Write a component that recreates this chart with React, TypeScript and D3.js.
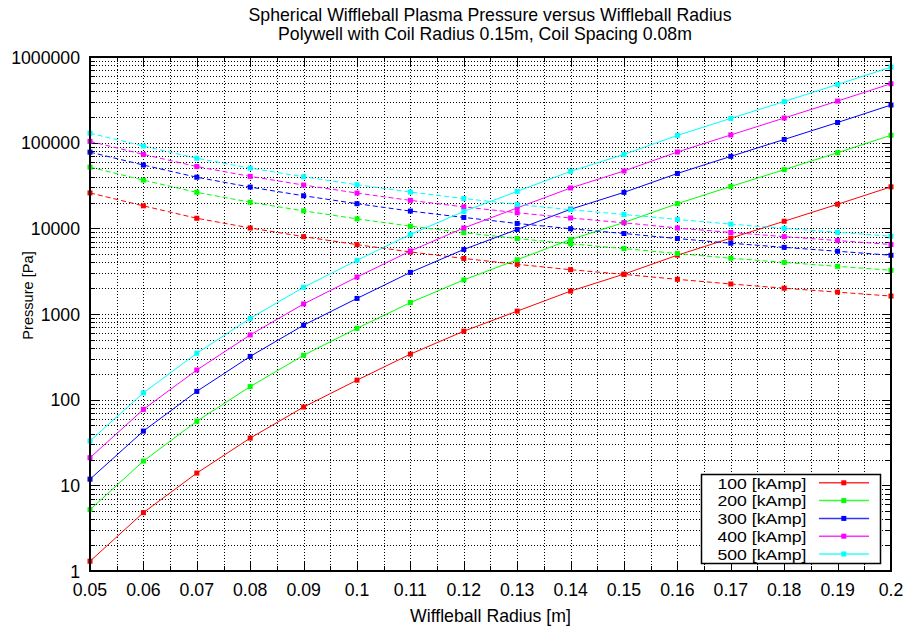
import { useRef, useEffect } from 'react';
import * as d3 from 'd3';

// radius samples [m]
const radius = [0.05, 0.06, 0.07, 0.08, 0.09, 0.1, 0.11, 0.12, 0.13, 0.14, 0.15, 0.16, 0.17, 0.18, 0.19, 0.2];

const currents = ['100 [kAmp]', '200 [kAmp]', '300 [kAmp]', '400 [kAmp]', '500 [kAmp]'];
const colors = ['#ff0000', '#00ff00', '#0000ff', '#ff00ff', '#00ffff'];

// solid curves (rising with radius)
const plasma100 = [1.3, 4.8, 13.9, 35.6, 82, 169, 340, 630, 1080, 1850, 2920, 4860, 7690, 12100, 19100, 30500];
const plasma200 = [5.2, 19.2, 56, 142, 330, 680, 1360, 2500, 4300, 7400, 11700, 19400, 30800, 48400, 76400, 122000];
const plasma300 = [11.8, 43, 125, 320, 740, 1520, 3060, 5670, 9700, 16700, 26300, 43700, 69200, 109000, 172000, 275000];
const plasma400 = [21, 77, 222, 570, 1310, 2700, 5440, 10100, 17300, 29600, 46700, 77800, 123000, 194000, 306000, 488000];
const plasma500 = [33, 120, 348, 890, 2050, 4230, 8500, 15750, 27000, 46300, 73000, 121500, 192000, 302000, 478000, 762000];

// dashed curves (falling with radius)
const field100 = [25900, 18300, 13100, 10100, 8000, 6450, 5300, 4450, 3800, 3290, 2900, 2540, 2240, 2000, 1800, 1620];
const field200 = [51800, 36500, 26300, 20200, 16000, 12900, 10600, 8900, 7600, 6600, 5800, 5080, 4480, 4000, 3600, 3240];
const field300 = [77500, 54800, 39500, 30300, 24000, 19400, 15900, 13400, 11400, 9900, 8700, 7600, 6700, 6000, 5400, 4850];
const field400 = [103500, 73000, 52600, 40400, 32000, 25800, 21200, 17800, 15200, 13200, 11600, 10100, 8950, 8000, 7200, 6480];
const field500 = [129000, 91300, 65800, 50500, 40000, 32300, 26500, 22300, 19000, 16500, 14500, 12700, 11200, 10000, 9000, 8100];

const plasmaSeries = [plasma100, plasma200, plasma300, plasma400, plasma500];
const fieldSeries = [field100, field200, field300, field400, field500];

const xTicks = [0.05, 0.06, 0.07, 0.08, 0.09, 0.1, 0.11, 0.12, 0.13, 0.14, 0.15, 0.16, 0.17, 0.18, 0.19, 0.2];
const xTickLabels = ['0.05', '0.06', '0.07', '0.08', '0.09', '0.1', '0.11', '0.12', '0.13', '0.14', '0.15', '0.16', '0.17', '0.18', '0.19', '0.2'];
const yTicks = [1, 10, 100, 1000, 10000, 100000, 1000000];
const yTickLabels = ['1', '10', '100', '1000', '10000', '100000', '1000000'];

const W = 908;
const H = 628;
const FONT = '"Liberation Sans", Arial, sans-serif';
const FS = 17.7;

export default function App() {
  const svgRef = useRef<SVGSVGElement | null>(null);

  useEffect(() => {
    const svg = d3.select(svgRef.current);
    svg.selectAll('*').remove();

    const margin = { top: 57, right: 17, bottom: 57, left: 90 };
    const x = d3.scaleLinear().domain([0.05, 0.2]).range([margin.left, W - margin.right]);
    const y = d3.scaleLog().domain([1, 1e6]).range([H - margin.bottom, margin.top]);
    const [x0, x1] = x.range();
    const [y0, y1] = y.range();

    svg.append('rect').attr('width', W).attr('height', H).attr('fill', '#fff');

    const grid = svg.append('g').attr('stroke', '#000').attr('stroke-width', 1)
      .attr('stroke-dasharray', '1,2').attr('shape-rendering', 'crispEdges');

    // vertical grid incl. minor steps of 0.005
    const xMinor = d3.range(0, 31).map(i => 0.05 + i * 0.005);
    xMinor.forEach(v => {
      const px = Math.round(x(v)) + 0.5;
      grid.append('line').attr('x1', px).attr('x2', px).attr('y1', y1).attr('y2', y0);
    });

    // horizontal grid incl. 2..9 in each decade
    const yMinor: number[] = [];
    for (let e = 0; e < 6; e++) for (let m = 1; m <= 9; m++) yMinor.push(m * Math.pow(10, e));
    yMinor.push(1e6);
    yMinor.forEach(v => {
      const py = Math.round(y(v)) + 0.5;
      grid.append('line').attr('x1', x0).attr('x2', x1).attr('y1', py).attr('y2', py);
    });

    // tick marks on all four sides
    const ticks = svg.append('g').attr('stroke', '#000').attr('stroke-width', 1).attr('shape-rendering', 'crispEdges');
    xMinor.forEach((v, i) => {
      const len = i % 2 === 0 ? 9 : 5;
      const px = Math.round(x(v)) + 0.5;
      ticks.append('line').attr('x1', px).attr('x2', px).attr('y1', y0).attr('y2', y0 - len);
      ticks.append('line').attr('x1', px).attr('x2', px).attr('y1', y1).attr('y2', y1 + len);
    });
    yMinor.forEach(v => {
      const major = yTicks.includes(v);
      const len = major ? 9 : 5;
      const py = Math.round(y(v)) + 0.5;
      ticks.append('line').attr('x1', x0).attr('x2', x0 + len).attr('y1', py).attr('y2', py);
      ticks.append('line').attr('x1', x1).attr('x2', x1 - len).attr('y1', py).attr('y2', py);
    });

    // series
    const line = d3.line<number>().x((_, i) => x(radius[i])).y(d => y(d));
    const plot = svg.append('g');
    currents.forEach((_, s) => {
      plot.append('path').datum(fieldSeries[s]).attr('d', line).attr('fill', 'none')
        .attr('stroke', colors[s]).attr('stroke-width', 1).attr('stroke-dasharray', '5,3');
      plot.append('path').datum(plasmaSeries[s]).attr('d', line).attr('fill', 'none')
        .attr('stroke', colors[s]).attr('stroke-width', 1);
    });
    currents.forEach((_, s) => {
      [fieldSeries[s], plasmaSeries[s]].forEach(data => {
        plot.selectAll(null).data(data).enter().append('rect')
          .attr('x', (_, i) => x(radius[i]) - 2.5).attr('y', d => y(d) - 2.5)
          .attr('width', 5).attr('height', 5).attr('fill', colors[s]);
      });
    });

    // border
    svg.append('rect').attr('x', x0).attr('y', y1).attr('width', x1 - x0).attr('height', y0 - y1)
      .attr('fill', 'none').attr('stroke', '#000').attr('stroke-width', 2);

    // tick labels
    const labels = svg.append('g').attr('font-family', FONT).attr('font-size', FS).attr('fill', '#000');
    xTicks.forEach((v, i) => {
      labels.append('text').attr('x', x(v)).attr('y', y0 + 25).attr('text-anchor', 'middle').text(xTickLabels[i]);
    });
    yTicks.forEach((v, i) => {
      labels.append('text').attr('x', x0 - 10).attr('y', y(v) + 6.5).attr('text-anchor', 'end').text(yTickLabels[i]);
    });

    // axis titles
    labels.append('text').attr('x', 490.5).attr('y', 621.5).attr('text-anchor', 'middle')
      .text('Wiffleball Radius [m]');
    labels.append('text').attr('transform', 'translate(32.5,295.5) rotate(-90)')
      .attr('text-anchor', 'middle').attr('font-size', 14.6).text('Pressure [Pa]');

    // title
    labels.append('text').attr('x', 490).attr('y', 20.5).attr('text-anchor', 'middle')
      .text('Spherical Wiffleball Plasma Pressure versus Wiffleball Radius');
    labels.append('text').attr('x', 485).attr('y', 39.5).attr('text-anchor', 'middle')
      .text('Polywell with Coil Radius 0.15m, Coil Spacing 0.08m');

    // legend (tight rows like gnuplot; glyphs stretched to the reference width)
    const lg = svg.append('g');
    lg.append('rect').attr('x', 701.5).attr('y', 474.5).attr('width', 179).attr('height', 89)
      .attr('fill', '#fff').attr('stroke', '#000').attr('stroke-width', 1.5);
    currents.forEach((name, s) => {
      const cy = 482.8 + s * 17.8;
      lg.append('text').attr('x', 717.5).attr('y', cy + 5.8)
        .attr('font-family', FONT).attr('font-size', 15.4)
        .attr('textLength', 89).attr('lengthAdjust', 'spacingAndGlyphs').text(name);
      lg.append('line').attr('x1', 819).attr('x2', 869).attr('y1', cy).attr('y2', cy)
        .attr('stroke', colors[s]).attr('stroke-width', 1.5).attr('stroke-opacity', 0.8);
      lg.append('rect').attr('x', 841.3).attr('y', cy - 2.5).attr('width', 5).attr('height', 5).attr('fill', colors[s]);
    });
  }, []);

  return (
    <div style={{ position: 'absolute', left: 0, top: 0, width: W, height: H, background: '#fff' }}>
      <svg ref={svgRef} width={W} height={H} style={{ display: 'block' }} />
    </div>
  );
}
